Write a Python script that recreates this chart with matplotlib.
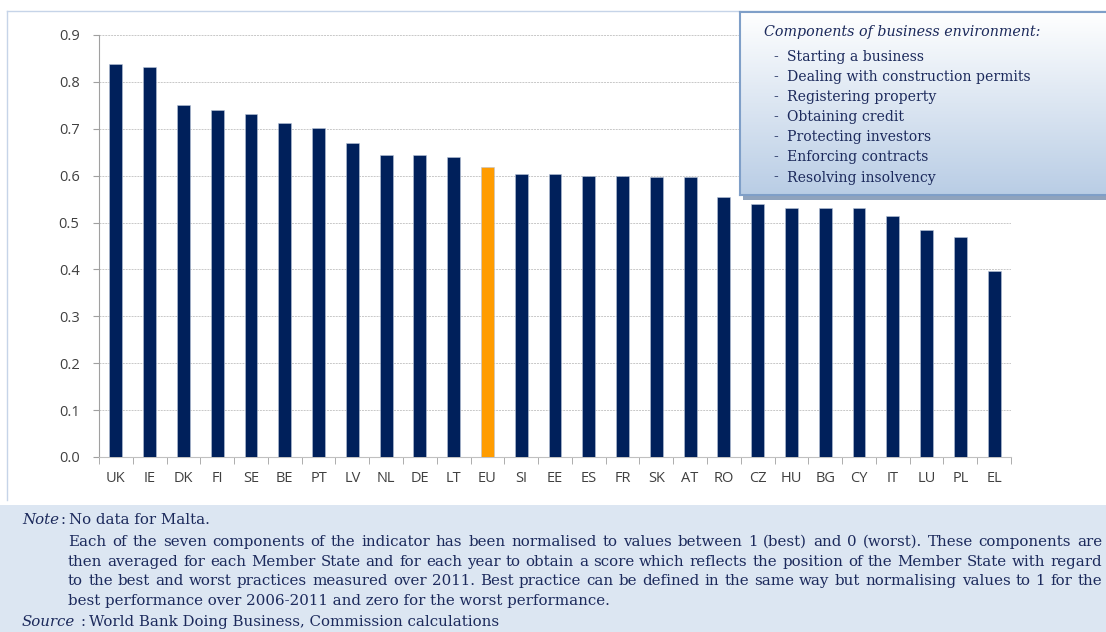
import numpy as np
import matplotlib.pyplot as plt
from matplotlib.patches import Rectangle

# Dados
paises = ["UK", "IE", "DK", "FI", "SE", "BE", "PT", "LV", "NL", "DE", "LT", "EU", "SI",
          "EE", "ES", "FR", "SK", "AT", "RO", "CZ", "HU", "BG", "CY", "IT", "LU", "PL", "EL"]
valores = [0.839, 0.832, 0.751, 0.739, 0.732, 0.713, 0.702, 0.669, 0.645, 0.645, 0.639, 0.618, 0.603,
           0.603, 0.600, 0.600, 0.597, 0.597, 0.554, 0.540, 0.532, 0.532, 0.530, 0.515, 0.485, 0.469, 0.397]
destaque = "EU"

componentes = ["Starting a business", "Dealing with construction permits", "Registering property",
               "Obtaining credit", "Protecting investors", "Enforcing contracts", "Resolving insolvency"]

nota_linhas = [
    "Each of the seven components of the indicator has been normalised to values between 1 (best) and 0 (worst). These components are",
    "then averaged for each Member State and for each year to obtain a score which reflects the position of the Member State with regard",
    "to the best and worst practices measured over 2011. Best practice can be defined in the same way but normalising values to 1 for the",
    "best performance over 2006-2011 and zero for the worst performance.",
]

W, H = 1106, 632
fig = plt.figure(figsize=(W / 100, H / 100), dpi=100)
renderer = fig.canvas.get_renderer()
serif = "DejaVu Serif"
navy_txt = "#1c2a5c"

# Fundo da área de notas
fig.patches.append(Rectangle((0, 0), 1, 1 - 505 / H, transform=fig.transFigure,
                             facecolor="#dce6f2", edgecolor="none", zorder=0))
# Moldura do gráfico
fig.lines.append(plt.Line2D([7 / W, 1], [1 - 11 / H, 1 - 11 / H], transform=fig.transFigure,
                            color="#c6d4e8", lw=1))
fig.lines.append(plt.Line2D([7 / W, 7 / W], [1 - 11 / H, 1 - 500 / H], transform=fig.transFigure,
                            color="#c6d4e8", lw=1))

ax = fig.add_axes([99 / W, 1 - 457 / H, (1011 - 99) / W, (457 - 35) / H])
x = np.arange(len(paises))
cores = ["#ff9c00" if p == destaque else "#00205b" for p in paises]
ax.bar(x, valores, width=0.38, color=cores, edgecolor="#b8c4d8", linewidth=0.4, zorder=3)

ax.set_xlim(-0.5, len(paises) - 0.5)
ax.set_ylim(0, 0.9)
ax.set_yticks(np.arange(0, 0.91, 0.1))
ax.set_yticklabels([f"{v:.1f}" for v in np.arange(0, 0.91, 0.1)])
ax.set_xticks(x)
ax.set_xticklabels(paises)
ax.set_xticks(np.arange(-0.5, len(paises), 1), minor=True)
ax.tick_params(axis="x", which="major", length=0, pad=10)
ax.tick_params(axis="x", which="minor", length=5, color="#a0a0a0", direction="out")
ax.tick_params(axis="y", length=4, color="#a0a0a0", pad=10)
ax.tick_params(labelsize=10.5, labelcolor="#404040")
for lab in ax.get_xticklabels() + ax.get_yticklabels():
    lab.set_family("Open Sans")

ax.grid(axis="y", color="#c8c8c8", linestyle=(0, (2, 1)), linewidth=0.7, zorder=0)
for s in ["top", "right"]:
    ax.spines[s].set_visible(False)
ax.spines["left"].set_color("#a0a0a0")
ax.spines["bottom"].set_color("#c0c0c0")

# Caixa dos componentes (com gradiente)
bx0, by0, bx1, by1 = 740 / W, 1 - 195 / H, 1.0, 1 - 12 / H
sombra = fig.add_axes([bx0 + 3 / W, by0 - 5 / H, bx1 - bx0, by1 - by0], zorder=4)
sombra.set_facecolor("#8fa3bd")
sombra.set_xticks([]); sombra.set_yticks([])
for s in sombra.spines.values():
    s.set_visible(False)
caixa = fig.add_axes([bx0, by0, bx1 - bx0, by1 - by0], zorder=5)
grad = np.linspace(1, 0, 256).reshape(-1, 1)
c_top = np.array([1.0, 1.0, 1.0])
c_bot = np.array([185, 205, 229]) / 255
img = c_bot[None, None, :] * (1 - grad[:, :, None]) + c_top[None, None, :] * grad[:, :, None]
caixa.imshow(img, aspect="auto", extent=[0, 1, 0, 1], origin="upper")
caixa.set_xlim(0, 1); caixa.set_ylim(0, 1)
caixa.set_xticks([]); caixa.set_yticks([])
for s in caixa.spines.values():
    s.set_color("#7f9fc8")
    s.set_linewidth(1.5)
caixa.spines["right"].set_visible(False)

fig.text(764 / W, 1 - 32 / H, "Components of business environment:", fontsize=10.3,
         family=serif, style="italic", color=navy_txt, va="center", zorder=6)
for i, comp in enumerate(componentes):
    yy = 1 - (57 + 20.1 * i) / H
    fig.text(773 / W, yy, "-", fontsize=10, family=serif, color=navy_txt, va="center", zorder=6)
    fig.text(787 / W, yy, comp, fontsize=10.1, family=serif, color=navy_txt, va="center", zorder=6)


def texto_justificado(linha, x0, x1, y, fs):
    # coloca cada palavra para que a linha ocupe de x0 a x1 (pixels)
    palavras = linha.split()
    larguras = []
    objs = []
    for p in palavras:
        t = fig.text(0, 1 - y / H, p, fontsize=fs, family=serif, va="center", color=navy_txt)
        larguras.append(t.get_window_extent(renderer).width)
        objs.append(t)
    espaco = (x1 - x0 - sum(larguras)) / (len(palavras) - 1)
    pos = x0
    for t, w in zip(objs, larguras):
        t.set_x(pos / W)
        pos += w + espaco


# Notas
fs = 10.8
fig.text(22 / W, 1 - 520 / H, "Note", fontsize=fs, family=serif, style="italic",
         va="center", color=navy_txt)
fig.text(61 / W, 1 - 520 / H, ":", fontsize=fs, family=serif, va="center", color=navy_txt)
fig.text(69 / W, 1 - 520 / H, "No data for Malta.", fontsize=fs, family=serif,
         va="center", color=navy_txt)
ys = [542, 562, 581, 601]
for i, linha in enumerate(nota_linhas):
    if i < len(nota_linhas) - 1:
        texto_justificado(linha, 68, 1102, ys[i], fs)
    else:
        fig.text(68 / W, 1 - ys[i] / H, linha, fontsize=fs, family=serif,
                 va="center", color=navy_txt)
fig.text(22 / W, 1 - 622 / H, "Source", fontsize=fs, family=serif, style="italic",
         va="center", color=navy_txt)
fig.text(81 / W, 1 - 622 / H, ":", fontsize=fs, family=serif, va="center", color=navy_txt)
fig.text(89 / W, 1 - 622 / H, "World Bank Doing Business, Commission calculations", fontsize=fs,
         family=serif, va="center", color=navy_txt)

fig.savefig("out.png", dpi=100)
